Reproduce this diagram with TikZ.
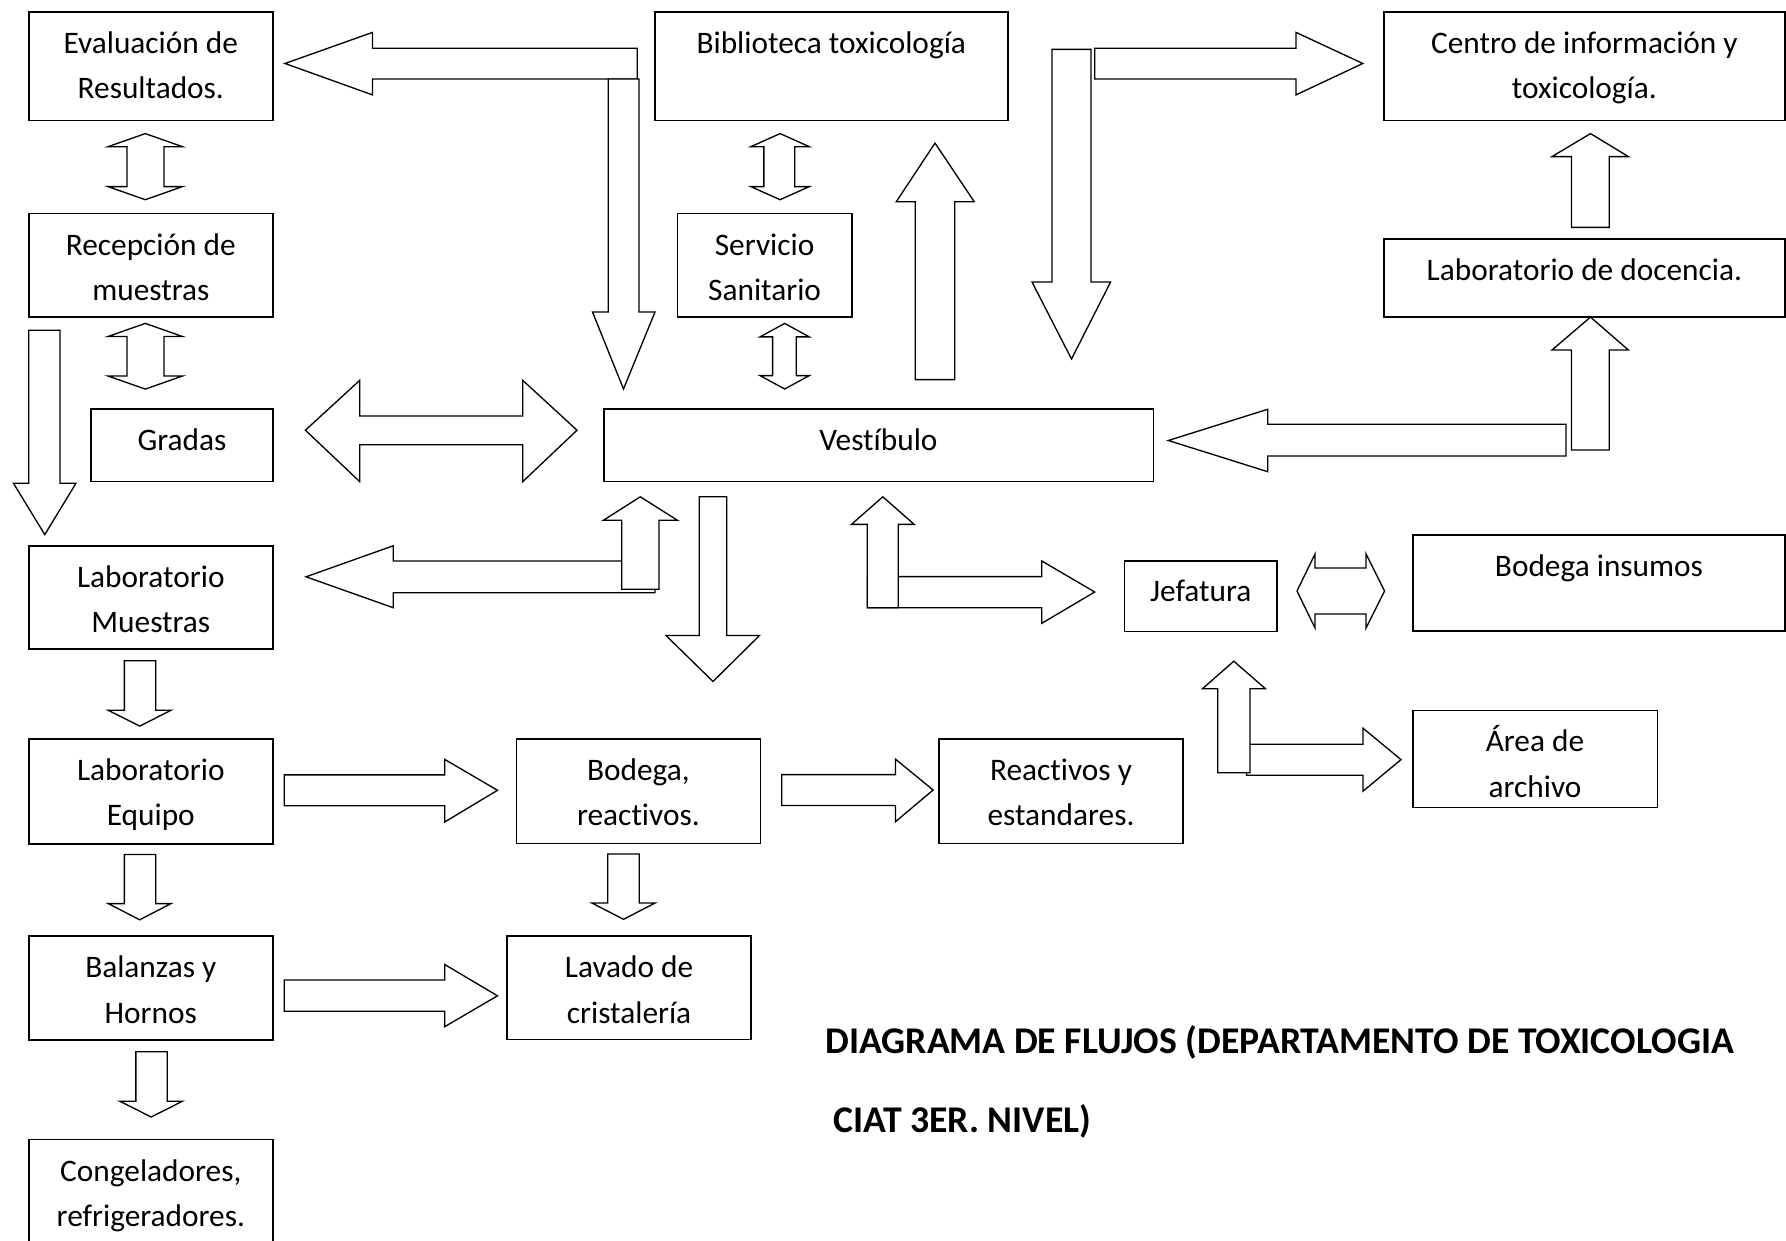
\documentclass[tikz,border=0pt]{standalone}
\usepackage{fontspec}
\setmainfont{Carlito}[Ligatures=NoCommon]
\usepackage{tikz}

\begin{document}
\begin{tikzpicture}[x=0.75pt,y=0.75pt,yscale=-1,xscale=1,
  room/.style={line width=1.2pt},
  blk/.style={line width=1pt, fill=white, line join=miter},
  lbl/.style={anchor=base, align=center, inner sep=0.75pt, font=\fontsize{23.5}{34.1}\selectfont},
  ttl/.style={anchor=base west, inner sep=0pt, font=\fontsize{28.3}{32}\selectfont\bfseries}]
        \useasboundingbox (0,0) rectangle (1786,1241);

        %Shape: Rectangle
        \draw [room] (28.7,11.9) rectangle (272.9,120.6) ;
        %Shape: Rectangle
        \draw [room] (654.7,11.9) rectangle (1007.8,120.6) ;
        %Shape: Rectangle
        \draw [room] (1383.7,11.9) rectangle (1785,120.6) ;
        %Shape: Rectangle
        \draw [room] (28.7,213.5) rectangle (272.9,317.1) ;
        %Shape: Rectangle
        \draw [room] (677.3,213.5) rectangle (852,317.1) ;
        %Shape: Rectangle
        \draw [room] (1383.7,239.2) rectangle (1785,317.1) ;
        %Shape: Rectangle
        \draw [room] (91,409.2) rectangle (272.9,481.6) ;
        %Shape: Rectangle
        \draw [room] (603.7,409.2) rectangle (1153.4,481.6) ;
        %Shape: Rectangle
        \draw [room] (28.7,545.7) rectangle (272.9,648.9) ;
        %Shape: Rectangle
        \draw [room] (1124.6,560.7) rectangle (1277,631.5) ;
        %Shape: Rectangle
        \draw [room] (1413,535) rectangle (1785,631) ;
        %Shape: Rectangle
        \draw [room] (28.7,738.8) rectangle (272.9,843.8) ;
        %Shape: Rectangle
        \draw [room] (516.6,738.7) rectangle (760.3,843.5) ;
        %Shape: Rectangle
        \draw [room] (939,738.7) rectangle (1183,843.5) ;
        %Shape: Rectangle
        \draw [room] (1412.7,710.3) rectangle (1657.4,807.3) ;
        %Shape: Rectangle
        \draw [room] (28.7,936) rectangle (272.9,1039.8) ;
        %Shape: Rectangle
        \draw [room] (507.1,935.7) rectangle (751.2,1039.3) ;
        %Shape: Rectangle
        \draw [room] (28.7,1139.6) rectangle (272.9,1244) ;

        %Shape: Left Arrow
        \draw [blk] (637.3,48.3) -- (372.5,48.3) -- (372.5,32.4) -- (285,63.5) -- (372.5,94.9) -- (372.5,79) -- (637.3,79) -- cycle ;
        %Shape: Down Arrow
        \draw [blk] (608.3,79) -- (639,79) -- (639,312) -- (655,312) -- (623.5,389) -- (592.5,312) -- (608.3,312) -- cycle ;
        %Shape: Down Arrow
        \draw [blk] (1052,49.4) -- (1091,49.4) -- (1091,282) -- (1110.6,282) -- (1071.5,359) -- (1032,282) -- (1052,282) -- cycle ;
        %Shape: Right Arrow
        \draw [blk] (1094.8,48.2) -- (1296,48.2) -- (1296,32.4) -- (1362.8,63.5) -- (1296,94.9) -- (1296,79) -- (1094.8,79) -- cycle ;
        %Shape: Up Arrow
        \draw [blk] (915.3,379.6) -- (915.3,201.7) -- (896.3,201.7) -- (935,143.1) -- (974.2,201.7) -- (954.8,201.7) -- (954.8,379.6) -- cycle ;

        %Shape: Up-Down Arrow
        \draw [blk] (145.3,133.6) -- (182.5,146.7) -- (164,146.7) -- (164,186.6) -- (182.5,186.6) -- (145.3,199.7) -- (108,186.6) -- (127,186.6) -- (127,146.7) -- (108,146.7) -- cycle ;
        %Shape: Up-Down Arrow
        \draw [blk] (145.3,323.4) -- (182.5,336.5) -- (164,336.5) -- (164,376) -- (182.5,376) -- (145.3,389.1) -- (108,376) -- (127,376) -- (127,336.5) -- (108,336.5) -- cycle ;
        %Shape: Up-Down Arrow
        \draw [blk] (780.1,133.6) -- (809.3,146.7) -- (794.7,146.7) -- (794.7,186.6) -- (809.3,186.6) -- (780.1,199.7) -- (750.8,186.6) -- (763.9,186.6) -- (763.9,146.7) -- (750.8,146.7) -- cycle ;
        %Shape: Up-Down Arrow
        \draw [blk] (784.7,323.4) -- (809.3,336.9) -- (796.3,336.9) -- (796.3,375.6) -- (809.3,375.6) -- (784.7,389) -- (760,375.6) -- (772.6,375.6) -- (772.6,336.9) -- (760,336.9) -- cycle ;

        %Shape: Down Arrow
        \draw [blk] (28.7,330.2) -- (60,330.2) -- (60,483.2) -- (76,483.2) -- (44.8,534.6) -- (13.4,483.2) -- (28.7,483.2) -- cycle ;
        %Shape: Left-Right Arrow
        \draw [blk] (305.4,430.2) -- (359.7,380.4) -- (359.7,416) -- (522.8,416) -- (522.8,380.4) -- (577,430.2) -- (522.8,481.6) -- (522.8,444.8) -- (359.7,444.8) -- (359.7,481.6) -- cycle ;

        %Shape: Left Arrow
        \draw [blk] (1566,424.3) -- (1267.7,424.3) -- (1267.7,409.3) -- (1168.3,440.5) -- (1267.7,471.7) -- (1267.7,456) -- (1566,456) -- cycle ;
        %Shape: Up Arrow
        \draw [blk] (1571.5,450) -- (1571.5,350) -- (1552,350) -- (1590.5,317.1) -- (1628.4,350) -- (1609.2,350) -- (1609.2,450) -- cycle ;
        %Shape: Up Arrow
        \draw [blk] (1571.5,227.4) -- (1571.5,156.6) -- (1552,156.6) -- (1590.5,133.6) -- (1628.4,156.6) -- (1609.2,156.6) -- (1609.2,227.4) -- cycle ;

        %Shape: Left Arrow
        \draw [blk] (655,561) -- (393.2,561) -- (393.2,545.8) -- (306,576.8) -- (393.2,607.7) -- (393.2,592.7) -- (655,592.7) -- cycle ;
        %Shape: Up Arrow
        \draw [blk] (621.7,589.3) -- (621.7,520.2) -- (603.5,520.2) -- (640.3,496.8) -- (677.3,520.2) -- (659,520.2) -- (659,589.3) -- cycle ;
        %Shape: Down Arrow
        \draw [blk] (699.3,496.7) -- (726.7,496.7) -- (726.7,635.5) -- (759.5,635.5) -- (713,681.5) -- (666,635.5) -- (699.3,635.5) -- cycle ;

        %Shape: Right Arrow
        \draw [blk] (867.5,576.6) -- (1041.8,576.6) -- (1041.8,561) -- (1094.7,592) -- (1041.8,623.3) -- (1041.8,607.7) -- (867.5,607.7) -- cycle ;
        %Shape: Up Arrow
        \draw [blk] (867.2,607.7) -- (867.2,524.4) -- (851.4,524.4) -- (882.8,496.8) -- (914.2,524.4) -- (898.2,524.4) -- (898.2,607.7) -- cycle ;
        %Shape: Left-Right Arrow
        \draw [blk] (1297,591) -- (1315,554) -- (1315,568) -- (1366,568) -- (1366,554) -- (1384.6,591) -- (1366,628) -- (1366,614) -- (1315,614) -- (1315,628) -- cycle ;
        %Shape: Right Arrow
        \draw [blk] (1246.5,744.2) -- (1363,744.2) -- (1363,728.2) -- (1401,759.6) -- (1363,791.2) -- (1363,775.3) -- (1246.5,775.3) -- cycle ;
        %Shape: Up Arrow
        \draw [blk] (1217.7,772.8) -- (1217.7,688.7) -- (1202.5,688.7) -- (1233.8,661.2) -- (1265.4,688.7) -- (1250,688.7) -- (1250,772.8) -- cycle ;

        %Shape: Down Arrow
        \draw [blk] (124.4,660.8) -- (155.8,660.8) -- (155.8,710.3) -- (171,710.3) -- (139.7,726.1) -- (108.3,710.3) -- (124.4,710.3) -- cycle ;
        %Shape: Down Arrow
        \draw [blk] (124.4,854.5) -- (155.8,854.5) -- (155.8,903.6) -- (171,903.6) -- (139.7,919.8) -- (108.3,903.6) -- (124.4,903.6) -- cycle ;
        %Shape: Down Arrow
        \draw [blk] (135.9,1051.7) -- (167.2,1051.7) -- (167.2,1101.2) -- (182.5,1101.2) -- (151.2,1117) -- (119.8,1101.2) -- (135.9,1101.2) -- cycle ;
        %Shape: Right Arrow
        \draw [blk] (284.3,774.9) -- (444.7,774.9) -- (444.7,759.4) -- (497.5,790.3) -- (444.7,822) -- (444.7,805.7) -- (284.3,805.7) -- cycle ;
        %Shape: Right Arrow
        \draw [blk] (284.3,980) -- (444.7,980) -- (444.7,964.5) -- (497.5,995.8) -- (444.7,1026.7) -- (444.7,1011.3) -- (284.3,1011.3) -- cycle ;
        %Shape: Right Arrow
        \draw [blk] (781.7,774.6) -- (895.5,774.6) -- (895.5,759.2) -- (933.1,790) -- (895.5,821.7) -- (895.5,805.5) -- (781.7,805.5) -- cycle ;
        %Shape: Down Arrow
        \draw [blk] (607.7,854) -- (639.3,854) -- (639.3,903) -- (655.1,903) -- (623.5,919.3) -- (591.9,903) -- (607.7,903) -- cycle ;

        % Text Node (two-line texts sit on their last baseline)
        \node [lbl] (eval) at (150.8,98.9) {Evaluación de\\Resultados.};
        % Text Node
        \node [lbl] (biblio) at (831.3,53.4) {Biblioteca toxicología};
        % Text Node
        \node [lbl] (centro) at (1584.4,98.9) {Centro de información y\\toxicología.};
        % Text Node
        \node [lbl] (recep) at (150.8,300.5) {Recepción de\\muestras};
        % Text Node
        \node [lbl] (servicio) at (764.6,300.5) {Servicio\\Sanitario};
        % Text Node
        \node [lbl] (docencia) at (1584.4,280.7) {Laboratorio de docencia.};
        % Text Node
        \node [lbl] (gradas) at (182,450.7) {Gradas};
        % Text Node
        \node [lbl] (vest) at (878.5,450.7) {Vestíbulo};
        % Text Node
        \node [lbl] (labmue) at (150.8,632.7) {Laboratorio\\Muestras};
        % Text Node
        \node [lbl] (jefat) at (1200.8,601.7) {Jefatura};
        % Text Node
        \node [lbl] (bodins) at (1599,576.5) {Bodega insumos};
        % Text Node
        \node [lbl] (labeq) at (150.8,825.7) {Laboratorio\\Equipo};
        % Text Node
        \node [lbl] (bodreac) at (638.4,825.7) {Bodega,\\reactivos.};
        % Text Node
        \node [lbl] (reactiv) at (1061,825.7) {Reactivos y\\estandares.};
        % Text Node
        \node [lbl] (archivo) at (1535,797.3) {Área de\\archivo};
        % Text Node
        \node [lbl] (balanz) at (150.8,1023) {Balanzas y\\Hornos};
        % Text Node
        \node [lbl] (lavado) at (629.1,1023) {Lavado de\\cristalería};
        % Text Node
        \node [lbl] (congel) at (150.8,1226.6) {Congeladores,\\refrigeradores.};
        % Text Node
        \node [ttl] (title1) at (825.2,1053) {DIAGRAMA DE FLUJOS (DEPARTAMENTO DE TOXICOLOGIA};
        % Text Node
        \node [ttl] (title2) at (833,1132) {CIAT 3ER. NIVEL)};

\end{tikzpicture}
\end{document}
